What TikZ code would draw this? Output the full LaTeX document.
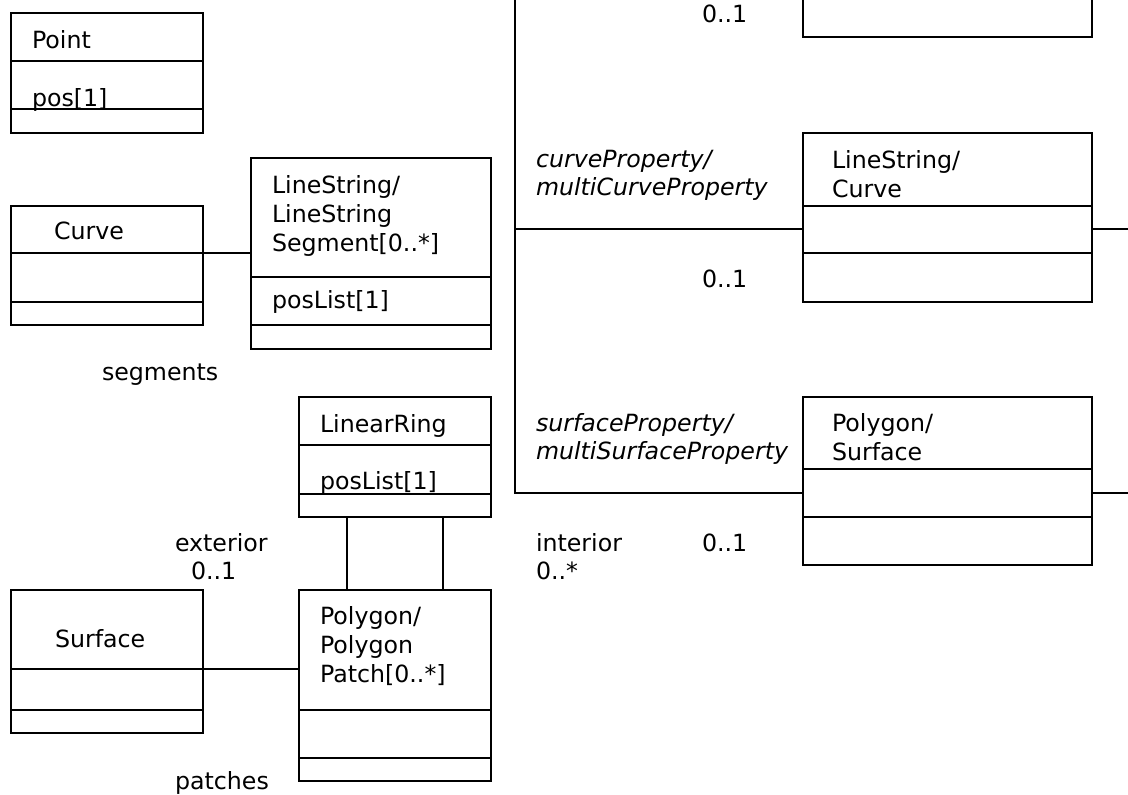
\documentclass[tikz,border=0pt]{standalone}
\usepackage{fontspec}
\setmainfont{DejaVu Sans}
\begin{document}
\begin{tikzpicture}[x=1pt,y=-1pt,
  umlbox/.style={draw, line width=2pt, anchor=north west, inner sep=0pt, outer sep=0pt},
  wire/.style={line width=2pt},
  lbl/.style={anchor=base west, inner sep=0pt, outer sep=0pt, align=left, font=\fontsize{23.7}{29}\selectfont},
  ilbl/.style={lbl, font=\fontsize{23.7}{28}\selectfont\itshape}]
\useasboundingbox (0,0) rectangle (1128,795);
\clip (0,0) rectangle (1128,795);
\fill[white] (0,0) rectangle (1128,795);

% boxes
\node[umlbox, minimum width=192pt, minimum height=120pt] (pt) at (11,13) {};
\node[umlbox, minimum width=192pt, minimum height=119pt] (cv) at (11,206) {};
\node[umlbox, minimum width=240pt, minimum height=191pt] (ls) at (251,158) {};
\node[umlbox, minimum width=192pt, minimum height=120pt] (lr) at (299,397) {};
\node[umlbox, minimum width=192pt, minimum height=143pt] (sf) at (11,590) {};
\node[umlbox, minimum width=192pt, minimum height=191pt] (pp) at (299,590) {};
\node[umlbox, minimum width=289pt, minimum height=180pt, anchor=south west] (tr) at (803,37) {};
\node[umlbox, minimum width=289pt, minimum height=169pt] (lc) at (803,133) {};
\node[umlbox, minimum width=289pt, minimum height=168pt] (ps) at (803,397) {};

% compartment dividers
\foreach \b/\d in {pt/48, pt/96, cv/47, cv/96, ls/119, ls/167, lr/48, lr/97,
                   sf/79, sf/120, pp/120, pp/168, lc/73, lc/120, ps/72, ps/120}
  \draw[wire] ([yshift=-\d pt]\b.north west) -- ([yshift=-\d pt]\b.north east);

% connectors
\draw[wire] ([yshift=-47pt]cv.north east) -- ([yshift=-47pt]cv.north east -| ls.west);
\draw[wire] ([yshift=-79pt]sf.north east) -- ([yshift=-79pt]sf.north east -| pp.west);
\draw[wire] ([xshift=-48pt]lr.south) -- ([xshift=-48pt]pp.north);
\draw[wire] ([xshift=48pt]lr.south) -- ([xshift=48pt]pp.north);

\coordinate (ttop) at (515,-5);
\coordinate (j1) at (515,229);
\coordinate (j2) at (515,493);
\coordinate (e1) at (1135,229);
\coordinate (e2) at (1135,493);
\draw[wire] (ttop) -- (j2) -- (j2 -| ps.west);
\draw[wire] (j1) -- (j1 -| lc.west);
\draw[wire] (j1 -| lc.east) -- (e1);
\draw[wire] (j2 -| ps.east) -- (e2);

% texts in boxes (multi-line nodes are placed by their last baseline)
\node[lbl] (tPoint) at (32,48) {Point};
\node[lbl] (tPos) at (32,106) {pos[1]};
\node[lbl] (tCurve) at (54,239) {Curve};
\node[lbl] (tLS) at (272,251) {LineString/\\LineString\\Segment[0..*]};
\node[lbl] (tLSpl) at (272,308) {posList[1]};
\node[lbl] (tLR) at (320,432) {LinearRing};
\node[lbl] (tLRpl) at (320,489) {posList[1]};
\node[lbl] (tSf) at (55,647) {Surface};
\node[lbl] (tPP) at (320,682) {Polygon/\\Polygon\\Patch[0..*]};
\node[lbl] (tLC) at (832,197) {LineString/\\Curve};
\node[lbl] (tPS) at (832,460) {Polygon/\\Surface};

% role names and multiplicities
\node[lbl] (tSeg) at (102,380) {segments};
\node[lbl] (tExt) at (175,551) {exterior};
\node[lbl] (tExtM) at (191,579) {0..1};
\node[lbl] (tPat) at (175,789) {patches};
\node[lbl] (tM1) at (702,23) {0..1};
\node[ilbl] (tCP) at (536,195) {curveProperty/\\multiCurveProperty};
\node[lbl] (tM2) at (702,287) {0..1};
\node[ilbl] (tSP) at (536,459) {surfaceProperty/\\multiSurfaceProperty};
\node[lbl] (tInt) at (536,551) {interior};
\node[lbl] (tIntM) at (536,579) {0..*};
\node[lbl] (tM3) at (702,551) {0..1};
\end{tikzpicture}
\end{document}
